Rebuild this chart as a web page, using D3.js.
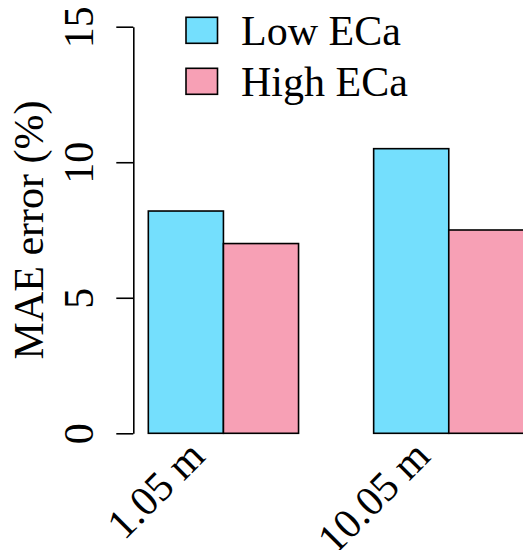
<!DOCTYPE html>
<html>
<head>
<meta charset="utf-8">
<script src="https://cdn.jsdelivr.net/npm/d3@7"></script>
<style>
  html, body { margin: 0; padding: 0; background: #fff; }
  svg { display: block; }
  text { font-family: "Liberation Serif", "Times New Roman", serif; fill: #000; }
</style>
</head>
<body>
<svg id="chart" width="523" height="550"></svg>
<script>
// Mean absolute error by sensor depth, split by ECa level
const categories = ["1.05 m", "10.05 m"];
const seriesNames = ["Low ECa", "High ECa"];
const lowECa = [8.2, 10.5];
const highECa = [7.0, 7.5];
const seriesColors = ["#74dffd", "#f7a0b5"];
const yTicks = [0, 5, 10, 15];

const svg = d3.select("#chart");
const fontSize = 42;

// Bars sit one unit wide, with a one-unit gap before each group
const x = d3.scaleLinear().domain([0.8, 6.2]).range([133.3, 538.9]);
const y = d3.scaleLinear().domain([0, 15]).range([433.3, 26.7]);

const series = [lowECa, highECa];
const bars = [];
categories.forEach((c, i) => {
  series.forEach((vals, s) => {
    bars.push({ cat: c, s, value: vals[i], left: 1 + 3 * i + s });
  });
});

svg.append("g").selectAll("rect")
  .data(bars)
  .join("rect")
  .attr("x", d => x(d.left))
  .attr("width", d => x(d.left + 1) - x(d.left))
  .attr("y", d => y(d.value))
  .attr("height", d => y(0) - y(d.value))
  .attr("fill", d => seriesColors[d.s])
  .attr("stroke", "#000")
  .attr("stroke-width", 1.6);

// Y axis with labels running along the axis
const yAxis = d3.axisLeft(y).tickValues(yTicks).tickSize(17).tickSizeOuter(0).tickFormat(d3.format("d"));
const gy = svg.append("g").attr("transform", `translate(${x(0.8)},0)`).call(yAxis);
gy.select(".domain").attr("stroke", "#000").attr("stroke-width", 1.6);
gy.selectAll(".tick line").attr("stroke", "#000").attr("stroke-width", 1.6);
gy.selectAll(".tick text")
  .attr("x", null).attr("dy", null)
  .attr("text-anchor", "middle")
  .attr("transform", "translate(-40,0) rotate(-90)")
  .style("font-family", "'Liberation Serif', serif")
  .style("font-size", fontSize + "px");

// Y axis title
svg.append("text")
  .attr("transform", `translate(43,${(y(0) + y(15)) / 2}) rotate(-90)`)
  .attr("text-anchor", "middle")
  .style("font-size", fontSize + "px")
  .text("MAE error (%)");

// Slanted category labels under each group
svg.append("g").selectAll("text")
  .data(categories)
  .join("text")
  .attr("transform", (d, i) => `translate(${x(2 + 3 * i) - 27},448) rotate(-45)`)
  .attr("text-anchor", "end")
  .attr("dy", "0.35em")
  .style("font-size", fontSize + "px")
  .text(d => d);

// Legend
const legend = svg.append("g").selectAll("g")
  .data(seriesNames)
  .join("g")
  .attr("transform", (d, i) => `translate(186,${17.3 + i * 51})`);
legend.append("rect")
  .attr("width", 31.5).attr("height", 26)
  .attr("fill", (d, i) => seriesColors[i])
  .attr("stroke", "#000").attr("stroke-width", 1.6);
legend.append("text")
  .attr("x", 55).attr("y", 28)
  .style("font-size", fontSize + "px")
  .text(d => d);
</script>
</body>
</html>
